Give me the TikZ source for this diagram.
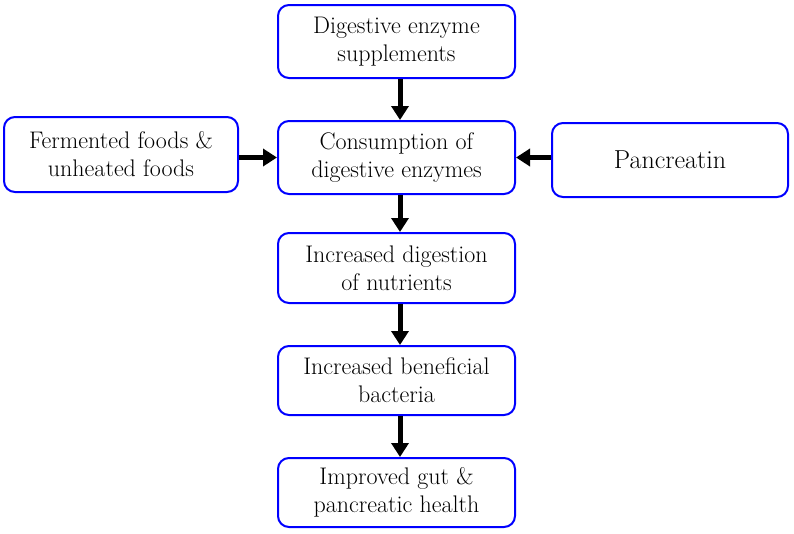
\documentclass[tikz,border=0pt]{standalone}
\usepackage{tikz}
\usetikzlibrary{arrows.meta}

\begin{document}
\begin{tikzpicture}[x=1pt,y=1pt,yscale=-1,xscale=1,
  box/.style={draw={rgb,255:red,0;green,0;blue,255}, line width=2pt, rounded corners=11pt,
    minimum width=237pt, minimum height=73pt, align=center, inner sep=2pt,
    font=\fontsize{24}{28}\selectfont},
  arr/.style={line width=5pt, -{Triangle[length=14pt,width=17pt]}}]
\useasboundingbox (0,0) rectangle (794,533);

% Boxes
\node [box] (supp) at (396.5,41.5) {Digestive enzyme\\supplements};
\node [box] (cons) at (396.5,157.5) {Consumption of\\digestive enzymes};
\node [box, minimum width=234pt, minimum height=75pt] (ferm) at (121,154.5) {Fermented foods \&\\unheated foods};
\node [box, minimum width=236pt, minimum height=74pt, font=\fontsize{26}{30}\selectfont] (panc) at (670,160) {Pancreatin};
\node [box, minimum height=70pt] (dige) at (396.5,268) {Increased digestion\\of nutrients};
\node [box, minimum height=69pt] (bact) at (396.5,380.5) {Increased beneficial\\bacteria};
\node [box, minimum height=69pt] (heal) at (396.5,492.5) {Improved gut \&\\pancreatic health};

% Arrows
\draw [arr] ([xshift=3.5pt]supp.south) -- ([xshift=3.5pt]cons.north);
\draw [arr] (ferm.east |- cons.west) -- (cons.west);
\draw [arr] (panc.west |- cons.east) -- (cons.east);
\draw [arr] ([xshift=3.5pt]cons.south) -- ([xshift=3.5pt]dige.north);
\draw [arr] ([xshift=3.5pt]dige.south) -- ([xshift=3.5pt]bact.north);
\draw [arr] ([xshift=3.5pt]bact.south) -- ([xshift=3.5pt]heal.north);

\end{tikzpicture}
\end{document}
